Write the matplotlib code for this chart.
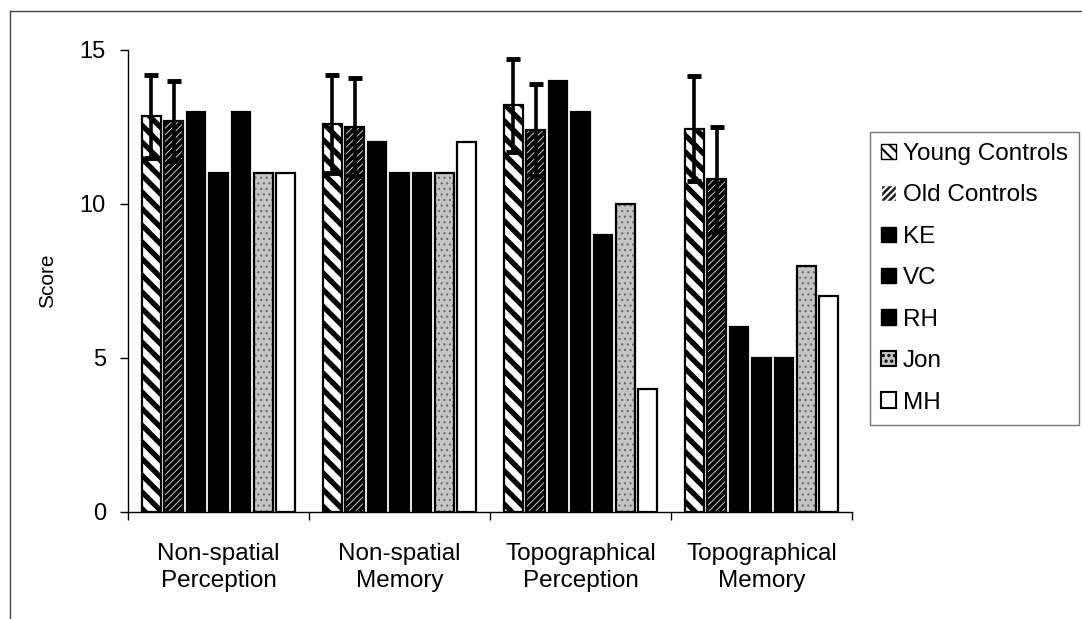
import matplotlib
matplotlib.use("Agg")
import matplotlib.pyplot as plt
import numpy as np
from matplotlib.lines import Line2D
from matplotlib.patches import Patch

plt.rcParams['font.family'] = ['Liberation Sans', 'DejaVu Sans']

# data
categories = ["Non-spatial\nPerception", "Non-spatial\nMemory",
              "Topographical\nPerception", "Topographical\nMemory"]
groups = ["Young Controls", "Old Controls", "KE", "VC", "RH", "Jon", "MH"]

young = [12.85, 12.6, 13.2, 12.45]
young_err = [1.35, 1.6, 1.5, 1.7]
old = [12.7, 12.5, 12.4, 10.8]
old_err = [1.3, 1.6, 1.5, 1.7]
ke = [13, 12, 14, 6]
vc = [11, 11, 13, 5]
rh = [13, 11, 9, 5]
jon = [11, 11, 10, 8]
mh = [11, 12, 4, 7]

values = [young, old, ke, vc, rh, jon, mh]
errors = [young_err, old_err, None, None, None, None, None]

# (facecolor, hatch, hatch colour)
styles = [
    ("white", "\\\\", "black"),
    ("black", "/////", "#e8e8e8"),
    ("black", None, "black"),
    ("black", None, "black"),
    ("black", None, "black"),
    ("#c4c4c4", "...", "#6a6a6a"),
    ("white", None, "black"),
]
hatch_widths = [3.8, 0.6, 1.0, 1.0, 1.0, 0.8, 1.0]

fig = plt.figure(figsize=(10.82, 6.19), dpi=100)
ax = fig.add_axes([128 / 1082, 1 - 512 / 619, (852 - 128) / 1082, (512 - 50) / 619])

x = np.arange(len(categories))
step = 0.124
width = 0.104

for i, (vals, err) in enumerate(zip(values, errors)):
    fc, hatch, hc = styles[i]
    pos = x + (i - 3) * step
    with plt.rc_context({"hatch.linewidth": hatch_widths[i], "hatch.color": hc}):
        bars = ax.bar(pos, vals, width, facecolor=fc, edgecolor=hc, hatch=hatch,
                      linewidth=0.01, zorder=2)
        for b in bars:
            if hasattr(b, "set_hatch_linewidth"):
                b.set_hatch_linewidth(hatch_widths[i])
    ax.bar(pos, vals, width, facecolor="none", edgecolor="black",
           linewidth=1.6, zorder=3)
    if err is not None:
        ax.errorbar(pos, vals, yerr=err, fmt="none", ecolor="black",
                    elinewidth=2.6, capsize=5, capthick=3.5, zorder=4)

ax.set_xlim(-0.5, len(categories) - 0.5)
ax.set_ylim(0, 15)
ax.set_yticks([0, 5, 10, 15])
ax.set_xticks(np.arange(len(categories) + 1) - 0.5)
ax.set_xticklabels([])
ax.set_xticks(x, minor=True)
ax.set_xticklabels(categories, minor=True, fontsize=17.5, linespacing=1.3)
ax.tick_params(axis="x", which="minor", length=0, pad=22)
ax.tick_params(axis="x", which="major", direction="out", length=6, width=1)
ax.tick_params(axis="y", direction="out", length=6, width=1, labelsize=17, pad=10)
for s in ["top", "right"]:
    ax.spines[s].set_visible(False)
ax.spines["left"].set_linewidth(1)
ax.spines["bottom"].set_linewidth(1)
ax.set_ylabel("Score", fontsize=15, labelpad=16)

handles = []
for i, g in enumerate(groups):
    fc, hatch, hc = styles[i]
    if i == 0:
        handles.append(Patch(facecolor="white", edgecolor="black", hatch="\\\\\\", label=g))
    elif i == 1:
        handles.append(Patch(facecolor="#222222", edgecolor="white", hatch="/////", label=g))
    elif fc == "black":
        handles.append(Patch(facecolor="black", edgecolor="black", label=g))
    else:
        handles.append(Patch(facecolor=fc, edgecolor="black", hatch=hatch, label=g,
                             linewidth=1.5))
with plt.rc_context({"hatch.linewidth": 1.5}):
    leg = fig.legend(handles=handles, loc="upper left",
                     bbox_to_anchor=(870 / 1082, 1 - 132 / 619),
                     fontsize=17.5, frameon=True, fancybox=False,
                     handlelength=0.6, handleheight=0.6, handletextpad=0.3,
                     labelspacing=0.8, borderpad=0.45, borderaxespad=0)
leg.get_frame().set_edgecolor("#555555")
leg.get_frame().set_linewidth(1)

# outer border of the original figure
fig.add_artist(Line2D([10 / 1082, 10 / 1082], [0, 1 - 11 / 619], color="#444444", lw=1))
fig.add_artist(Line2D([10 / 1082, 1], [1 - 11 / 619, 1 - 11 / 619], color="#444444", lw=1))

fig.savefig("out.png", dpi=100)
